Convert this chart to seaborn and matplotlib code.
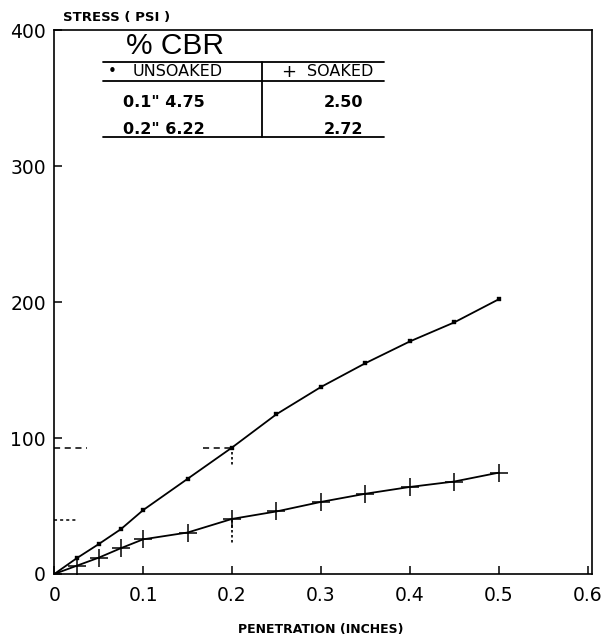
import matplotlib
matplotlib.use("Agg")
import matplotlib.pyplot as plt
import seaborn as sns

# CBR test - stress vs penetration, unsoaked and soaked samples
penetration = [0, 0.025, 0.05, 0.075, 0.1, 0.15, 0.2, 0.25, 0.3, 0.35, 0.4, 0.45, 0.5]
stress_unsoaked = [0, 11.5, 22, 33, 47, 70, 93, 117.5, 137.5, 155, 171, 185, 202]
stress_soaked = [0, 6, 12, 19, 25.5, 30.5, 40.5, 46, 53, 59, 64, 68, 74.5]

x_ticks = [0, 0.1, 0.2, 0.3, 0.4, 0.5, 0.6]
x_tick_labels = ["0", "0.1", "0.2", "0.3", "0.4", "0.5", "0.6"]
y_ticks = [0, 100, 200, 300, 400]

# corrected stresses used for the CBR values
guide_stress_unsoaked = 93
guide_stress_soaked = 40

cbr_rows = ['0.1" 4.75', '0.2" 6.22']
cbr_soaked = ["2.50", "2.72"]

sns.set_style("ticks")
plt.rcParams["font.family"] = ["DejaVu Sans"]
plt.rcParams["text.color"] = "black"
plt.rcParams["xtick.color"] = "black"
plt.rcParams["ytick.color"] = "black"

fig = plt.figure(figsize=(6.08, 6.44), dpi=100)
ax = fig.add_axes([0.0893, 0.1087, 0.8844, 0.8447])

sns.lineplot(x=penetration, y=stress_unsoaked, color="black", lw=1.3, ax=ax)
sns.lineplot(x=penetration, y=stress_soaked, color="black", lw=1.3, ax=ax)
sns.scatterplot(x=penetration[1:], y=stress_unsoaked[1:], marker="s", s=10,
                color="black", edgecolor="black", ax=ax, zorder=3)
sns.scatterplot(x=penetration[1:], y=stress_soaked[1:], marker="+", s=150,
                color="black", linewidth=1.1, ax=ax, zorder=3)

# guide lines used to read the stress at 0.2"
ax.plot([0, 0.037], [guide_stress_unsoaked] * 2, color="black", ls=(0, (4, 3)), lw=1.1)
ax.plot([0, 0.024], [guide_stress_soaked] * 2, color="black", ls=(0, (2, 2)), lw=1.1)
ax.plot([0.167, 0.2], [guide_stress_unsoaked] * 2, color="black", ls=(0, (4, 3)), lw=1.1)
ax.plot([0.2, 0.2], [guide_stress_unsoaked - 3, 79], color="black", ls=(0, (1.5, 1.5)), lw=1.2)
ax.plot([0.2, 0.2], [guide_stress_soaked, 21], color="black", ls=(0, (1.5, 1.5)), lw=1.2)

ax.set_xlim(0, 0.605)
ax.set_ylim(0, 400)
ax.set_xticks(x_ticks)
ax.set_xticklabels(x_tick_labels)
ax.set_yticks(y_ticks)
ax.tick_params(direction="in", length=6, width=1.1, labelsize=13.5, pad=9)
ax.tick_params(axis="y", pad=6)
for sp in ax.spines.values():
    sp.set_linewidth(1.2)
    sp.set_color("black")
ax.set_xlabel("")
ax.set_ylabel("")

fig.text(0.104, 0.962, "STRESS ( PSI )", fontsize=9.5, fontweight="bold", va="bottom")
fig.text(0.528, 0.012, "PENETRATION (INCHES)", fontsize=9, fontweight="bold",
         ha="center", va="bottom")

# % CBR table
ax.text(0.081, 377.8, "% CBR", fontsize=21.5, family="Liberation Sans", va="bottom")
ax.plot([0.055, 0.3715], [376.5, 376.5], color="black", lw=1.3)
ax.plot([0.055, 0.3715], [362.5, 362.5], color="black", lw=1.3)
ax.plot([0.055, 0.3715], [321.3, 321.3], color="black", lw=1.3)
ax.plot([0.2333, 0.2333], [376.5, 321.3], color="black", lw=1.3)
ax.text(0.060, 369.3, "•", fontsize=11, va="center")
ax.text(0.0884, 369.3, "UNSOAKED", fontsize=11.5, va="center")
ax.text(0.255, 369.3, "+", fontsize=13, va="center")
ax.text(0.284, 369.3, "SOAKED", fontsize=11.5, va="center")
for i, (row, val) in enumerate(zip(cbr_rows, cbr_soaked)):
    yy = 347 - i * 20
    ax.text(0.077, yy, row, fontsize=11.5, va="center", fontweight="bold")
    ax.text(0.3255, yy, val, fontsize=11.5, va="center", ha="center", fontweight="bold")

fig.savefig("out.png", dpi=100)
